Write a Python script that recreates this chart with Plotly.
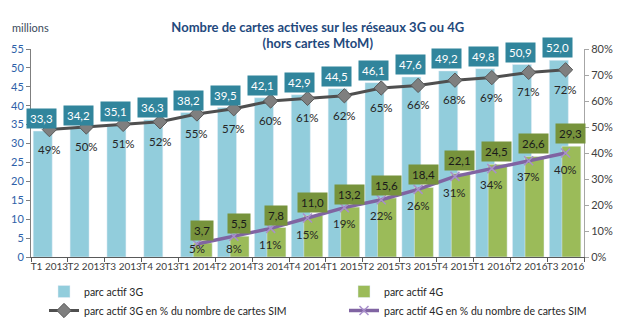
import plotly.graph_objects as go

categories = ["T1 2013", "T2 2013", "T3 2013", "T4 2013", "T1 2014", "T2 2014", "T3 2014", "T4 2014",
              "T1 2015", "T2 2015", "T3 2015", "T4 2015", "T1 2016", "T2 2016", "T3 2016"]
parc_3g = [33.3, 34.2, 35.1, 36.3, 38.2, 39.5, 42.1, 42.9, 44.5, 46.1, 47.6, 49.2, 49.8, 50.9, 52.0]
pct_3g = [49, 50, 51, 52, 55, 57, 60, 61, 62, 65, 66, 68, 69, 71, 72]
cats_4g = categories[4:]
parc_4g = [3.7, 5.5, 7.8, 11.0, 13.2, 15.6, 18.4, 22.1, 24.5, 26.6, 29.3]
pct_4g = [5, 8, 11, 15, 19, 22, 26, 31, 34, 37, 40]

FONT = "Lato"
C3G_BAR = "#92CDDC"
C4G_BAR = "#9BBB59"
C3G_BOX = "#31859C"
C4G_BOX = "#77933C"

W, H = 619, 323
ML, MR, MT, MB = 31, 35, 49, 66
PW, PH = W - ML - MR, H - MT - MB

def fmt(v):
    return f"{v:.1f}".replace(".", ",")

fig = go.Figure()
fig.add_trace(go.Bar(x=categories, y=parc_3g, name="parc actif 3G", marker_color=C3G_BAR,
                     width=0.515, offset=-0.44, legend="legend"))
fig.add_trace(go.Bar(x=cats_4g, y=parc_4g, name="parc actif 4G", marker_color=C4G_BAR,
                     width=0.515, offset=-0.1, legend="legend2"))
fig.add_trace(go.Scatter(x=categories, y=pct_3g, yaxis="y2", mode="lines+markers",
                         name="parc actif 3G en % du nombre de cartes SIM",
                         line=dict(color="#4F4F4F", width=3),
                         marker=dict(symbol="diamond", size=11, color="#7F7F7F",
                                     line=dict(color="#595959", width=1)),
                         legend="legend"))
fig.add_trace(go.Scatter(x=cats_4g, y=pct_4g, yaxis="y2", mode="lines+markers",
                         name="parc actif 4G en % du nombre de cartes SIM",
                         line=dict(color="#8064A2", width=3.5),
                         marker=dict(symbol="x-thin", size=9, color="#A88FCB",
                                     line=dict(color="#A88FCB", width=1.5)),
                         legend="legend2"))

ann = []
for c, v in zip(categories, parc_3g):
    ann.append(dict(x=c, y=v, xref="x", yref="y", text=fmt(v), showarrow=False,
                    yanchor="bottom", yshift=2, xshift=-8, bgcolor=C3G_BOX, borderpad=3,
                    font=dict(family=FONT, size=11.5, color="white")))
for c, v in zip(cats_4g, parc_4g):
    ann.append(dict(x=c, y=v, xref="x", yref="y", text=fmt(v), showarrow=False,
                    yanchor="bottom", yshift=2, xshift=5, bgcolor=C4G_BOX, borderpad=3,
                    font=dict(family=FONT, size=11.5, color="#1A1A1A")))
for c, p in zip(categories, pct_3g):
    ann.append(dict(x=c, y=p, xref="x", yref="y2", text=f"{p}%", showarrow=False,
                    yshift=-19.5, font=dict(family=FONT, size=11.5, color="#262626")))
for c, p in zip(cats_4g, pct_4g):
    ann.append(dict(x=c, y=max(p - 6.2, 3.1), xref="x", yref="y2", text=f"{p}%", showarrow=False,
                    font=dict(family=FONT, size=11.5, color="#262626")))
ann.append(dict(x=(10 - ML) / PW, y=(H - MB - 28) / PH, xref="paper", yref="paper", text="millions",
                showarrow=False, xanchor="left", yanchor="middle",
                font=dict(family=FONT, size=11, color="#3B4A5A")))

legend_y = (H - MB - 277) / PH

fig.update_layout(
    width=W, height=H,
    margin=dict(l=ML, r=MR, t=MT, b=MB, autoexpand=False),
    paper_bgcolor="white", plot_bgcolor="white",
    barmode="overlay",
    font=dict(family=FONT, size=11, color="#404040"),
    title=dict(text="<b>Nombre de cartes actives sur les réseaux 3G ou 4G<br>(hors cartes MtoM)</b>",
               x=321 / W, xanchor="center", xref="paper", yref="container",
               y=1 - 31.5 / H, yanchor="middle",
               font=dict(family=FONT, size=13, color="#1F497D")),
    xaxis=dict(type="category", categoryorder="array", categoryarray=categories,
               range=[-0.5, 14.5], tickson="boundaries", ticks="outside", ticklen=4,
               tickcolor="#595959", showline=True, linecolor="#595959", linewidth=1,
               tickangle=0, tickfont=dict(family=FONT, size=10, color="#404040"),
               showgrid=False, zeroline=False),
    yaxis=dict(range=[0, 55], dtick=5, ticks="outside", ticklen=4, tickcolor="#7F7F7F",
               showline=True, linecolor="#7F7F7F", linewidth=1, showgrid=False, zeroline=False,
               tickfont=dict(family=FONT, size=11, color="#2E5FA8")),
    yaxis2=dict(range=[0, 80], dtick=10, ticksuffix="%", overlaying="y", side="right",
                ticks="outside", ticklen=4, tickcolor="#A6A6A6", showline=True,
                linecolor="#A6A6A6", linewidth=1, showgrid=False, zeroline=False,
                tickfont=dict(family=FONT, size=11, color="#404040")),
    legend=dict(x=(44 - ML) / PW, xanchor="left", y=legend_y, yanchor="top",
                orientation="v", bgcolor="rgba(0,0,0,0)",
                font=dict(family=FONT, size=10.5, color="#262626")),
    legend2=dict(x=(344 - ML) / PW, xanchor="left", y=legend_y, yanchor="top",
                 orientation="v", bgcolor="rgba(0,0,0,0)",
                 font=dict(family=FONT, size=10.5, color="#262626")),
    annotations=ann,
    showlegend=True,
)

fig.write_html("out.html")
